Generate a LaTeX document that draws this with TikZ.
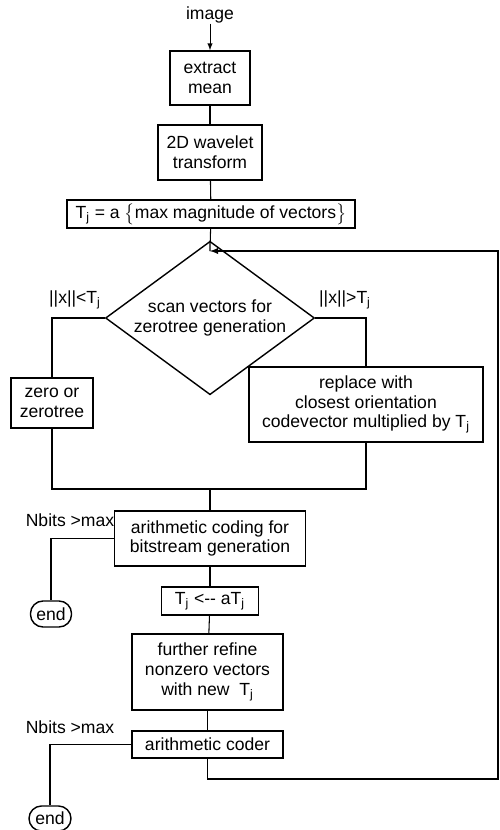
\documentclass[tikz,border=0pt]{standalone}
\usepackage{fontspec}
\setmainfont{Liberation Sans}
\usetikzlibrary{shapes.geometric}
\begin{document}
\begin{tikzpicture}[font=\fontsize{10}{11.2}\selectfont, >=latex,
            blk/.style = {draw, thick, align = center, inner sep = 1pt},
            term/.style = {draw, thick, rounded corners = 0.25cm, inner sep = 1pt},
            lbl/.style = {inner sep = 0pt}]
            \useasboundingbox (0,0) rectangle (10,-16.6);

            %Input
            \node [lbl] (img)at(4.2,-0.3){image};
            %Mean
            \node [blk, minimum width = 1.6cm, minimum height = 1.08cm]
            (mean)at(4.2,-1.56){extract\\mean};
            %Wavelet
            \node [blk, minimum width = 2.08cm, minimum height = 1.1cm]
            (dwt)at(4.2,-3.05){2D wavelet\\transform};
            %Threshold
            \node [blk, minimum width = 5.76cm, minimum height = 0.56cm]
            (thr)at(4.22,-4.28){T\textsubscript{j} = a $\bigl\{$max magnitude of vectors$\bigr\}$};
            \coordinate (loop) at (4.2,-5.02);
            %Scan
            \node [draw, thick, diamond, align = center, inner xsep = -0.3cm, inner ysep = -0.05cm,
            minimum width = 4.18cm, minimum height = 1.92cm]
            (scan)at(4.2,-6.36){scan vectors for\\zerotree generation};
            \node [lbl] (lo)at(1.5,-6.0){||x||<T\textsubscript{j}};
            \node [lbl] (hi)at(6.9,-6.0){||x||>T\textsubscript{j}};
            %Zero
            \node [blk, minimum width = 1.64cm, minimum height = 1.0cm]
            (zero)at(1.04,-8.06){zero or\\zerotree};
            %Replace
            \node [blk, minimum width = 4.68cm, minimum height = 1.5cm]
            (repl)at(7.32,-8.09){replace with\\closest orientation\\codevector multiplied by T\textsubscript{j}};
            \coordinate (join) at (4.2,-9.78);
            %Arithmetic coding
            \node [blk, minimum width = 3.82cm, minimum height = 1.1cm]
            (arith)at(4.2,-10.77){arithmetic coding for\\bitstream generation};
            \node [lbl] (nb1)at(1.4,-10.4){Nbits >max};
            \node [term, minimum width = 0.82cm, minimum height = 0.52cm]
            (end1)at(1.02,-12.28){end};
            %Update
            \node [blk, minimum width = 1.94cm, minimum height = 0.56cm]
            (upd)at(4.2,-12.02){T\textsubscript{j} <-{}- aT\textsubscript{j}};
            %Refine
            \node [blk, minimum width = 3.02cm, minimum height = 1.52cm]
            (refine)at(4.15,-13.44){further refine\\nonzero vectors\\with new \ T\textsubscript{j}};
            %Coder
            \node [blk, minimum width = 3.02cm, minimum height = 0.54cm]
            (coder)at(4.15,-14.89){arithmetic coder};
            \node [lbl] (nb2)at(1.4,-14.54){Nbits >max};
            \node [term, minimum width = 0.84cm, minimum height = 0.5cm]
            (end2)at(1.0,-16.37){end};
            \coordinate (ret) at (9.96,-15.58);

            \draw [->](img)--(mean);
            \draw [semithick](mean)--(dwt);
            \draw [semithick](dwt)--(thr);
            \draw [semithick](thr)--(loop)--(scan);
            \draw [semithick](scan.west)-|(zero.north);
            \draw [semithick](scan.east)-|(repl.north);
            \draw [semithick](zero.south)|-(join)-|(repl.south);
            \draw [semithick](join)--(arith);
            \draw [semithick](arith.west)-|(end1.north);
            \draw [semithick](arith)--(upd);
            \draw [semithick](upd)--(refine);
            \draw [semithick](refine)--(coder);
            \draw [semithick](coder.west)-|(end2.north);
            \draw [semithick,->](coder.south)|-(ret)|-(loop);

        \end{tikzpicture}
\end{document}
